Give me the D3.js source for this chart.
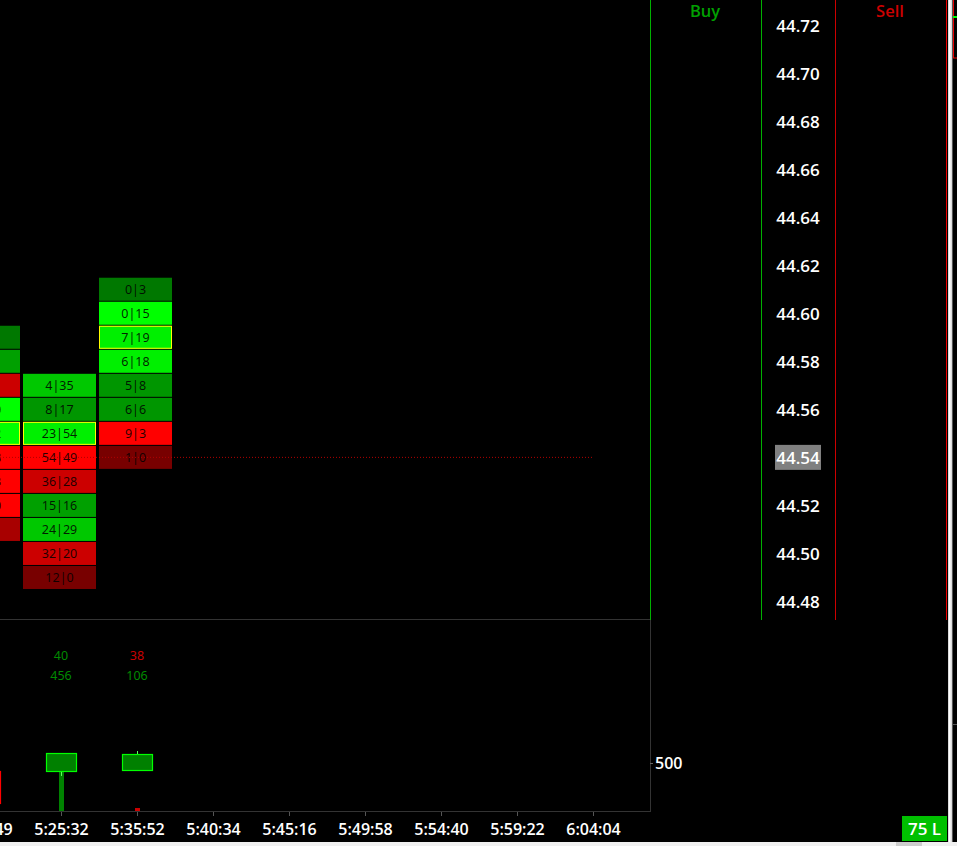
<!DOCTYPE html>
<html><head><meta charset="utf-8">
<script src="https://cdn.jsdelivr.net/npm/d3@7"></script>
<style>html,body{margin:0;padding:0;background:#000;overflow:hidden}svg{display:block}</style>
</head><body><svg id="c" width="957" height="846"></svg>
<script>
// ---------- data ----------
const timeLabels = ["5:20:49","5:25:32","5:35:52","5:40:34","5:45:16","5:49:58","5:54:40","5:59:22","6:04:04"];
const priceTicks = [44.72,44.70,44.68,44.66,44.64,44.62,44.60,44.58,44.56,44.54,44.52,44.50,44.48];
const lastPrice = 44.54;

// footprint cells (bar index, price, bid | ask, imbalance tone)
const cellBar   = [0,0,0,0,0,0,0,0,0, 1,1,1,1,1,1,1,1,1, 2,2,2,2,2,2,2,2];
const cellPrice = [44.59,44.58,44.57,44.56,44.55,44.54,44.53,44.52,44.51,
                   44.57,44.56,44.55,44.54,44.53,44.52,44.51,44.50,44.49,
                   44.61,44.60,44.59,44.58,44.57,44.56,44.55,44.54];
const cellBid   = [2,5,21,12,31,40,27,22,9,
                   4,8,23,54,36,15,24,32,12,
                   0,0,7,6,5,6,9,1];
const cellAsk   = [6,11,9,40,62,18,13,10,2,
                   35,17,54,49,28,16,29,20,0,
                   3,15,19,18,8,6,3,0];
const cellTone  = ["G1","G3","R3","G6","G6","R4","R4","R4","R2",
                   "G4","G2","G5","R4","R3","G3","G4","R3","R1",
                   "G1","G6","G5","G5","G2","G2","R4","R1"];
const pocPrice  = [44.55, 44.55, 44.59];

// bar summaries (delta, volume)
const barDelta     = [null, 40, 38];
const barDeltaTone = [null, "up", "down"];
const barVolume    = [null, 456, 106];

// lower pane candles + histogram
const candleOpen  = [417, 417, 427];
const candleClose = [83, 604, 594];
const candleHigh  = [417, 604, 625];
const candleLow   = [83, 365, 427];
const histValue   = [0, 406, 31];
const histTone    = ["down", "up", "down"];
const lowerTicks  = [500];

// ---------- drawing ----------
const svg = d3.select("#c");
const W = 957, H = 846;
svg.append("rect").attr("width", W).attr("height", H).attr("fill", "#000");

const x = d3.scalePoint().domain(timeLabels).range([-15, 593]);
const yP = d3.scaleLinear().domain([44.48, 44.72]).range([602, 25.5]);
const yL = d3.scaleLinear().domain([0, 500]).range([811, 763]);

const toneColor = d3.scaleOrdinal()
  .domain(["G1","G2","G3","G4","G5","G6","R1","R2","R3","R4"])
  .range(["#007800","#009600","#00a000","#00c800","#00f000","#00ff00","#780000","#a80000","#cc0000","#ff0000"]);

const fontMain = "'Open Sans','Noto Sans',sans-serif";

// pane frames
svg.append("line").attr("x1",0).attr("x2",650).attr("y1",619.5).attr("y2",619.5).attr("stroke","#333");
svg.append("line").attr("x1",650.5).attr("x2",650.5).attr("y1",620).attr("y2",812).attr("stroke","#333");
svg.append("line").attr("x1",0).attr("x2",651).attr("y1",811.5).attr("y2",811.5).attr("stroke","#333");
svg.append("line").attr("x1",650.5).attr("x2",650.5).attr("y1",0).attr("y2",620).attr("stroke","#00b000");
svg.append("line").attr("x1",761.5).attr("x2",761.5).attr("y1",0).attr("y2",620).attr("stroke","#00b000");
svg.append("line").attr("x1",835.5).attr("x2",835.5).attr("y1",0).attr("y2",620).attr("stroke","#cc0000");
svg.append("line").attr("x1",946.5).attr("x2",946.5).attr("y1",0).attr("y2",620).attr("stroke","#ee0000");

// Buy / Sell headers
svg.append("text").attr("x",705).attr("y",17).attr("text-anchor","middle")
  .attr("font-family",fontMain).attr("font-weight",600).attr("font-size",16.5).attr("fill","#00a000").text("Buy");
svg.append("text").attr("x",890).attr("y",17).attr("text-anchor","middle")
  .attr("font-family",fontMain).attr("font-weight",600).attr("font-size",16.5).attr("fill","#cc0000").text("Sell");

// footprint cells
const cells = d3.range(cellBar.length).map(i => ({
  bar: cellBar[i], price: cellPrice[i], bid: cellBid[i], ask: cellAsk[i], tone: cellTone[i]
}));
const gCells = svg.append("g");
gCells.selectAll("rect.cell").data(cells).join("rect").attr("class","cell")
  .attr("x", d => x(timeLabels[d.bar]) - 38)
  .attr("y", d => yP(d.price) - 12)
  .attr("width", 73).attr("height", 23)
  .attr("fill", d => toneColor(d.tone));
gCells.selectAll("rect.poc").data(cells.filter(d => Math.abs(d.price - pocPrice[d.bar]) < 1e-6)).join("rect").attr("class","poc")
  .attr("x", d => x(timeLabels[d.bar]) - 37.5)
  .attr("y", d => yP(d.price) - 11.5)
  .attr("width", 72).attr("height", 22)
  .attr("fill","none").attr("stroke","#ffff00").attr("stroke-width",1);
gCells.selectAll("text").data(cells).join("text")
  .attr("x", d => x(timeLabels[d.bar]) - 1.5)
  .attr("y", d => yP(d.price) + 4.5)
  .attr("text-anchor","middle").attr("font-family","'Noto Sans',sans-serif").attr("font-size",12.5)
  .attr("fill","rgba(0,0,0,0.85)")
  .text(d => d.bid + "|" + d.ask);

// last price dotted line
svg.append("line").attr("x1",0).attr("x2",594).attr("y1",yP(lastPrice)-0.5).attr("y2",yP(lastPrice)-0.5)
  .attr("stroke","#b00000").attr("stroke-dasharray","1,2").attr("stroke-width",1);

// price axis
const lastY = yP(lastPrice);
svg.append("rect").attr("x",775).attr("y",lastY-13).attr("width",46).attr("height",25).attr("fill","#808080");
const pAxis = svg.append("g").attr("transform","translate(798,0)")
  .call(d3.axisRight(yP).tickValues(priceTicks).tickFormat(d3.format(".2f")).tickSize(0).tickPadding(0));
pAxis.select(".domain").remove();
pAxis.selectAll("text").attr("x",0).attr("dy","0.35em").attr("text-anchor","middle")
  .attr("font-family",fontMain).attr("font-weight",600).attr("font-size",17).attr("fill","#fff");

// bar summaries
const sumIdx = d3.range(barVolume.length).filter(i => barVolume[i] != null);
svg.selectAll("text.delta").data(sumIdx).join("text").attr("class","delta")
  .attr("x", i => x(timeLabels[i])).attr("y",660).attr("text-anchor","middle")
  .attr("font-family","'Noto Sans',sans-serif").attr("font-size",12.5)
  .attr("fill", i => barDeltaTone[i] === "up" ? "#008a00" : "#c80000")
  .text(i => barDelta[i]);
svg.selectAll("text.vol").data(sumIdx).join("text").attr("class","vol")
  .attr("x", i => x(timeLabels[i])).attr("y",680).attr("text-anchor","middle")
  .attr("font-family","'Noto Sans',sans-serif").attr("font-size",12.5)
  .attr("fill","#008a00").text(i => barVolume[i]);

// lower histogram
const idx3 = d3.range(candleOpen.length);
svg.selectAll("rect.hist").data(idx3.filter(i => histValue[i] > 0)).join("rect").attr("class","hist")
  .attr("x", i => x(timeLabels[i]) - 2).attr("width",5)
  .attr("y", i => yL(histValue[i])).attr("height", i => yL(0) - yL(histValue[i]))
  .attr("fill", i => histTone[i] === "up" ? "#008200" : "#cc0000");

// candles
const gC = svg.append("g");
gC.selectAll("line").data(idx3).join("line")
  .attr("x1", i => x(timeLabels[i]) + 0.5).attr("x2", i => x(timeLabels[i]) + 0.5)
  .attr("y1", i => yL(candleHigh[i])).attr("y2", i => yL(candleLow[i]))
  .attr("stroke", i => candleClose[i] >= candleOpen[i] ? "#60ff60" : "#ff0000").attr("stroke-width",1);
gC.selectAll("rect").data(idx3).join("rect")
  .attr("x", i => x(timeLabels[i]) - 14.5)
  .attr("y", i => Math.round(yL(Math.max(candleOpen[i], candleClose[i]))) + 0.5)
  .attr("width", 30)
  .attr("height", i => Math.round(Math.abs(yL(candleOpen[i]) - yL(candleClose[i]))))
  .attr("fill", i => candleClose[i] >= candleOpen[i] ? "#008000" : "#800000")
  .attr("stroke", i => candleClose[i] >= candleOpen[i] ? "#00ff00" : "#ff0000").attr("stroke-width",1.2);

// lower axis
const lAxis = svg.append("g").attr("transform","translate(650,0)")
  .call(d3.axisRight(yL).tickValues(lowerTicks).tickSize(3).tickPadding(2));
lAxis.select(".domain").remove();
lAxis.selectAll("line").attr("stroke","#666");
lAxis.selectAll("text").attr("dy","0.35em").attr("font-family",fontMain).attr("font-weight",600)
  .attr("font-size",16).attr("fill","#fff");

// time axis
const tAxis = svg.append("g").attr("transform","translate(0,812)")
  .call(d3.axisBottom(x).tickSize(4).tickSizeOuter(0));
tAxis.select(".domain").remove();
tAxis.selectAll("line").attr("stroke","#555");
tAxis.selectAll("text").attr("y",23).attr("dy",0)
  .attr("font-family",fontMain).attr("font-weight",600).attr("font-size",16).attr("fill","#fff");

// position box
svg.append("rect").attr("x",902).attr("y",816).attr("width",45).attr("height",25).attr("fill","#00c000");
svg.append("text").attr("x",924.5).attr("y",835).attr("text-anchor","middle")
  .attr("font-family",fontMain).attr("font-weight",600).attr("font-size",17).attr("fill","#fff").text("75 L");

// window chrome: scrollbars
svg.append("rect").attr("x",948).attr("y",0).attr("width",4).attr("height",842).attr("fill","#dcdcdc");
svg.append("rect").attr("x",949).attr("y",0).attr("width",1.5).attr("height",842).attr("fill","#ffffff");
svg.append("line").attr("x1",952.5).attr("x2",952.5).attr("y1",0).attr("y2",842).attr("stroke","#555");
svg.append("rect").attr("x",953.5).attr("y",-1).attr("width",5).attr("height",59).attr("fill","none").attr("stroke","#ee0000");
svg.append("rect").attr("x",953).attr("y",16).attr("width",4).attr("height",2).attr("fill","#00ff00");
svg.append("line").attr("x1",952).attr("x2",957).attr("y1",724.5).attr("y2",724.5).attr("stroke","#555");
svg.append("rect").attr("x",0).attr("y",842).attr("width",W).attr("height",4).attr("fill","#f0f0f0");
svg.append("rect").attr("x",896).attr("y",842).attr("width",26).attr("height",4).attr("fill","#cdcdcd");
</script></body></html>
